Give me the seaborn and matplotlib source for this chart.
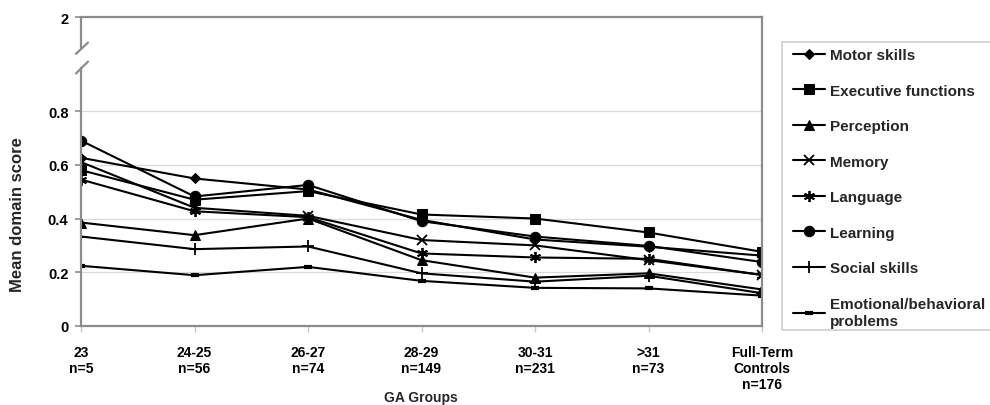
import matplotlib
matplotlib.use("Agg")
import matplotlib.pyplot as plt
import seaborn as sns
import pandas as pd
from matplotlib.patches import Rectangle

sns.set_theme(style="white")
plt.rcParams['font.family'] = ['Liberation Sans', 'DejaVu Sans']
plt.rcParams['font.weight'] = 'bold'

groups = ["23\nn=5", "24-25\nn=56", "26-27\nn=74", "28-29\nn=149",
          "30-31\nn=231", ">31\nn=73", "Full-Term\nControls\nn=176"]

motor       = [0.626, 0.549, 0.508, 0.395, 0.322, 0.295, 0.262]
executive   = [0.580, 0.470, 0.502, 0.415, 0.400, 0.348, 0.276]
perception  = [0.385, 0.338, 0.400, 0.245, 0.180, 0.196, 0.136]
memory      = [0.610, 0.440, 0.410, 0.320, 0.300, 0.245, 0.190]
language    = [0.545, 0.427, 0.405, 0.270, 0.255, 0.250, 0.190]
learning    = [0.690, 0.482, 0.525, 0.390, 0.333, 0.298, 0.238]
social      = [0.333, 0.286, 0.296, 0.196, 0.165, 0.187, 0.122]
emotional   = [0.224, 0.189, 0.220, 0.168, 0.142, 0.140, 0.113]

series = [
    ("Motor skills", motor, dict(marker="D", markersize=5.5)),
    ("Executive functions", executive, dict(marker="s", markersize=6.5)),
    ("Perception", perception, dict(marker="^", markersize=7.5)),
    ("Memory", memory, dict(marker="x", markersize=7, markeredgewidth=1.3)),
    ("Language", language, dict(marker=(6, 2, 0), markersize=8, markeredgewidth=1.3)),
    ("Learning", learning, dict(marker="o", markersize=7.5)),
    ("Social skills", social, dict(marker="+", markersize=8, markeredgewidth=1.3)),
    ("Emotional/behavioral\nproblems", emotional, dict(marker="_", markersize=6, markeredgewidth=3)),
]

fig = plt.figure(figsize=(9.9, 4.06), dpi=100)
ax = fig.add_axes([81/990, 1-327/406, (762-81)/990, (327-18)/406])

for name, vals, mk in series:
    df = pd.DataFrame({"x": list(range(len(groups))), "y": vals})
    sns.lineplot(data=df, x="x", y="y", ax=ax, color="black", linewidth=1.5,
                 markeredgecolor="black", markerfacecolor="black", label=name, **mk)

ymax = 1.15
ax.set_xlim(0, len(groups) - 1)
ax.set_ylim(0, ymax)
ax.set_xticks(range(len(groups)))
ax.set_xticklabels(groups, fontsize=10, fontweight="bold", linespacing=1.15)
ax.set_yticks([0, 0.2, 0.4, 0.6, 0.8, ymax])
ax.set_yticklabels(["0", "0.2", "0.4", "0.6", "0.8", "2"], fontsize=10.5, fontweight="bold")
ax.set_xlabel("")
ax.set_ylabel("")

for yv in [0.2, 0.4, 0.6, 0.8]:
    ax.axhline(yv, color="#dadada", linewidth=0.9, zorder=0)

spine_c = "#8c8c8c"
for s in ["top", "right", "bottom"]:
    ax.spines[s].set_color(spine_c)
    ax.spines[s].set_linewidth(1.6)
ax.spines["left"].set_visible(False)

tr = ax.get_yaxis_transform()
ax.plot([0, 0], [0, 0.962], color=spine_c, lw=1.6, transform=tr, clip_on=False, zorder=5)
ax.plot([0, 0], [1.033, ymax], color=spine_c, lw=1.6, transform=tr, clip_on=False, zorder=5)
w = 681.0
ax.plot([-5/w, 7/w], [1.013, 1.055], color=spine_c, lw=1.6, transform=tr, clip_on=False, zorder=5)
ax.plot([-5/w, 7/w], [0.940, 0.984], color=spine_c, lw=1.6, transform=tr, clip_on=False, zorder=5)

ax.tick_params(axis="y", which="both", left=True, length=4, width=1.2, color=spine_c,
               pad=5, labelcolor="black")
ax.tick_params(axis="x", which="both", bottom=True, length=4, width=1, color="#c8c8c8",
               pad=10, labelcolor="black")

fig.text(18/990, 1-215/406, "Mean domain score", rotation=90, ha="center", va="center",
         fontsize=12, fontweight="bold")
fig.text(421/990, 1-398/406, "GA Groups", ha="center", va="center",
         fontsize=10, fontweight="bold")

handles, labels = ax.get_legend_handles_labels()
leg = ax.legend(handles, labels, loc="upper left", bbox_to_anchor=(793/990, 1-49/406),
                bbox_transform=fig.transFigure, frameon=False, borderpad=0, borderaxespad=0,
                handlelength=2.1, handletextpad=0.3, labelspacing=1.41,
                prop={"size": 11, "weight": "bold"})
for t in leg.get_texts():
    t.set_linespacing(1.3)
fig.add_artist(Rectangle((782/990, 1-331/406), 0.3, (331-43)/406, transform=fig.transFigure,
                         fill=False, edgecolor="#cfcfcf", linewidth=1.2))

fig.savefig("out.png", dpi=100)
